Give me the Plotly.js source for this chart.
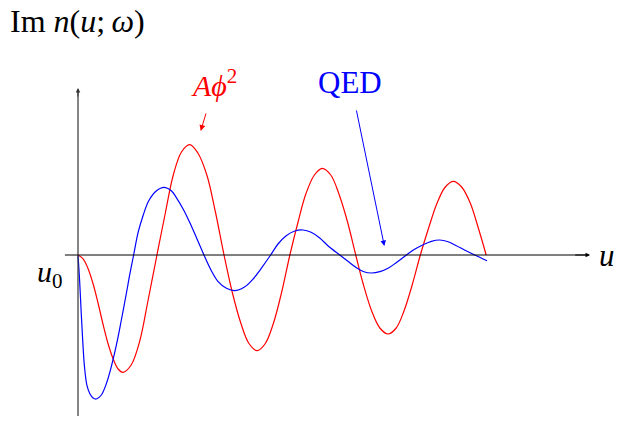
<!DOCTYPE html>
<html>
<head>
<meta charset="utf-8">
<script src="https://cdn.plot.ly/plotly-3.0.1.min.js"></script>
<style>
  html, body { margin: 0; padding: 0; background: #fff; }
  #chart { width: 619px; height: 421px; }
</style>
</head>
<body>
<div id="chart"></div>
<script>
// Im n(u; omega) for the A-phi^2 model (red) and QED (blue)
const uPhi2 = [0, 0.12, 0.24, 0.37, 0.49, 0.61, 0.73, 0.86, 0.98, 1.10, 1.30, 1.51, 1.71, 1.93,
  2.14, 2.33, 2.53, 2.73, 2.93, 3.15, 3.36, 3.57, 3.77, 3.98, 4.18, 4.38, 4.58, 4.78, 4.98, 5.18,
  5.38, 5.57, 5.78, 5.97, 6.18, 6.38, 6.59, 6.79, 6.98, 7.18, 7.38, 7.58, 7.78, 7.97, 8.17, 8.37,
  8.58, 8.78, 8.98, 9.18, 9.38, 9.59, 9.78, 9.98];
const imPhi2 = [0, -0.037, -0.13, -0.29, -0.48, -0.69, -0.88, -1.04, -1.14, -1.173, -1.10, -0.86, -0.46, 0,
  0.43, 0.80, 1.03, 1.103, 1.02, 0.80, 0.43, 0, -0.37, -0.68, -0.885, -0.957, -0.885, -0.68, -0.37, 0,
  0.33, 0.61, 0.80, 0.867, 0.80, 0.61, 0.33, 0, -0.30, -0.56, -0.73, -0.79, -0.73, -0.56, -0.30, 0,
  0.28, 0.52, 0.68, 0.737, 0.68, 0.52, 0.28, 0];

const uQed = [0, 0.04, 0.08, 0.12, 0.16, 0.22, 0.29, 0.37, 0.45, 0.57, 0.69, 0.81, 0.94, 1.06, 1.18, 1.26, 1.36,
  1.47, 1.59, 1.73, 1.92, 2.10, 2.28, 2.40, 2.57, 2.73, 2.91, 3.08, 3.26, 3.42, 3.63, 3.83, 4.06, 4.28, 4.48, 4.71,
  4.89, 5.09, 5.30, 5.50, 5.70, 5.91, 6.11, 6.40, 6.60, 6.81, 6.99, 7.17, 7.38, 7.58, 7.78, 8.03,
  8.23, 8.44, 8.64, 8.84, 9.05, 9.25, 9.45, 9.70, 10.0];
const imQed = [0, -0.257, -0.587, -0.89, -1.123, -1.307, -1.387, -1.43, -1.44, -1.40, -1.29, -1.123, -0.897, -0.65, -0.39, -0.207, 0,
  0.227, 0.393, 0.543, 0.643, 0.677, 0.643, 0.577, 0.46, 0.327, 0.16, 0, -0.157, -0.263, -0.333, -0.357, -0.323, -0.24, -0.133, 0,
  0.11, 0.193, 0.24, 0.25, 0.227, 0.17, 0.093, 0, -0.063, -0.127, -0.167, -0.18, -0.167, -0.133, -0.077, 0,
  0.057, 0.103, 0.137, 0.15, 0.133, 0.093, 0.05, 0, -0.057];

// axis extents and arrow anchors (data units)
const xAxisSpan = [-0.32, 12.52];
const yAxisSpan = [-1.61, 1.67];
const phiArrow = { tail: [3.14, 1.43], tip: [3.00, 1.24] };
const qedArrow = { tail: [6.80, 1.46], tip: [7.49, 0.09] };

const serif = '"Liberation Serif", "DejaVu Serif", serif';
const fs = 30;

const curveLine = (color) => ({ color: color, width: 1.2, shape: 'spline', smoothing: 1, simplify: false });

const traces = [
  { x: uPhi2, y: imPhi2, mode: 'lines', line: curveLine('#ff0000'), hoverinfo: 'skip' },
  { x: uQed, y: imQed, mode: 'lines', line: curveLine('#0000ff'), hoverinfo: 'skip' }
];

function arrow(tip, tail, color, size) {
  return {
    x: tip[0], y: tip[1], ax: tail[0], ay: tail[1],
    xref: 'x', yref: 'y', axref: 'x', ayref: 'y',
    text: '', showarrow: true, arrowhead: 2, arrowsize: size || 0.9, arrowwidth: 1, arrowcolor: color
  };
}

const layout = {
  width: 619, height: 421,
  margin: { l: 0, r: 0, t: 0, b: 0 },
  paper_bgcolor: '#fff', plot_bgcolor: '#fff',
  showlegend: false,
  xaxis: { range: [-1.907, 13.227], visible: false, fixedrange: true },
  yaxis: { range: [-1.66, 2.55], visible: false, fixedrange: true },
  shapes: [
    { type: 'line', xref: 'x', yref: 'y', x0: xAxisSpan[0], x1: xAxisSpan[1] - 0.05, y0: 0, y1: 0, line: { color: '#000', width: 1 } },
    { type: 'line', xref: 'x', yref: 'y', x0: 0, x1: 0, y0: yAxisSpan[0], y1: yAxisSpan[1] - 0.02, line: { color: '#333', width: 1.2 } }
  ],
  annotations: [
    arrow([xAxisSpan[1], 0], [xAxisSpan[1] - 0.4, 0], '#000'),
    arrow([0, yAxisSpan[1]], [0, yAxisSpan[1] - 0.1], '#333'),
    arrow(phiArrow.tip, phiArrow.tail, '#ff0000', 1.2),
    arrow(qedArrow.tip, qedArrow.tail, '#0000ff', 1.1),
    { xref: 'paper', yref: 'paper', x: 8 / 619, y: 1 - 21 / 421, xanchor: 'left', yanchor: 'middle', showarrow: false,
      text: 'Im <i>n</i>(<i>u</i>;\u2009<i>ω</i>)', font: { family: serif, size: 32, color: '#000' } },
    { xref: 'x', yref: 'y', x: 12.68, y: 0.0, xanchor: 'left', yanchor: 'middle', showarrow: false,
      text: '<i>u</i>', font: { family: serif, size: 31, color: '#000' } },
    { xref: 'x', yref: 'y', x: -0.32, y: -0.19, xanchor: 'right', yanchor: 'middle', showarrow: false,
      text: '<i>u</i><sub>0</sub>', font: { family: serif, size: fs, color: '#000' } },
    { xref: 'x', yref: 'y', x: 3.33, y: 1.72, xanchor: 'center', yanchor: 'middle', showarrow: false,
      text: '<i>Aϕ</i><sup>2</sup>', font: { family: serif, size: fs, color: '#ff0000' } },
    { xref: 'x', yref: 'y', x: 6.65, y: 1.73, xanchor: 'center', yanchor: 'middle', showarrow: false,
      text: 'QED', font: { family: serif, size: 31, color: '#0000ff' } }
  ]
};

Plotly.newPlot('chart', traces, layout, { staticPlot: true, displayModeBar: false });
</script>
</body>
</html>
